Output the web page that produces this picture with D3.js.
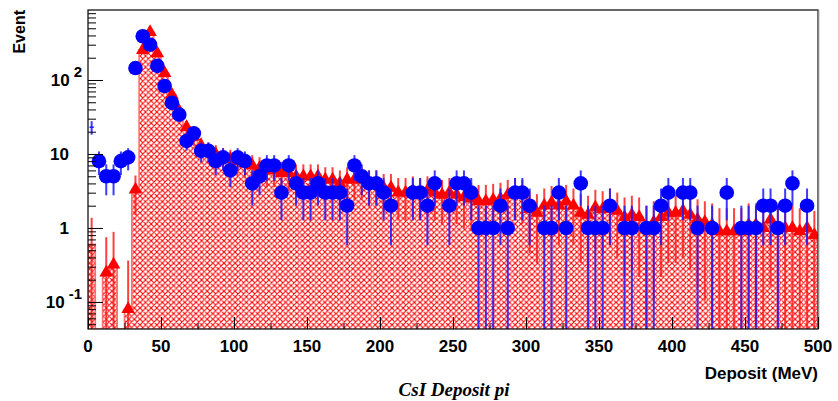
<!DOCTYPE html>
<html>
<head>
<meta charset="utf-8">
<script src="https://cdn.jsdelivr.net/npm/d3@7"></script>
<style>
  body { margin: 0; background: #fff; }
  text { font-family: "Liberation Sans", Arial, sans-serif; font-weight: bold; }
</style>
</head>
<body>
<div id="chart"></div>
<script>
// histogram binning (MeV)
const binWidth = 5;
const xMin = 0, xMax = 500;

// MC (red, hatched) per-bin contents
const redCounts = [
  0.6, 0, 0.25, 0.32, 0, 0.08, 3.3, 254, 445, 230,
  124, 63, 38, 23, 17, 13, 11, 10, 9, 8.5,
  8, 7.5, 7, 6.5, 6, 6, 5.5, 5.5, 5, 5,
  5, 5, 4.5, 4.5, 4, 4.5, 4.5, 4.5, 4, 4,
  3.5, 3.5, 3, 3, 3.2, 3, 3.2, 3, 2.8, 3,
  2.8, 2.6, 2.5, 2.3, 2.3, 2.4, 2.5, 2.8, 3, 2.8,
  1.8, 1.6, 2, 2.2, 2, 2.3, 2, 1.6, 1.5, 1.9,
  1.8, 2, 1.7, 1.4, 1.5, 1.4, 1.0, 1.2, 1.4, 1.6,
  1.6, 1.7, 1.5, 1.3, 1.2, 1.1, 0.9, 0.9, 0.9, 0.9,
  1.1, 1.1, 1.0, 1.3, 1.0, 1.0, 1.0, 0.9, 1.0, 0.8
];

// data (blue points) per-bin counts
const blueCounts = [
  23, 8, 5, 5, 8, 9, 145, 390, 300, 155,
  83, 49, 34, 15, 19, 11, 11, 8, 9, 6,
  9, 8, 4, 5, 7, 7, 3, 7, 4, 3,
  3, 4, 3, 3, 3, 2, 7, 5, 4, 4,
  3, 2, 0, 0, 3, 3, 2, 4, 0, 2,
  4, 4, 3, 1, 1, 1, 2, 1, 3, 3,
  2, 0, 1, 1, 3, 1, 0, 4, 1, 1,
  1, 2, 0, 1, 1, 0, 1, 1, 2, 3,
  0, 3, 3, 1, 0, 1, 0, 3, 0, 1,
  1, 1, 2, 2, 1, 2, 4, 0, 2, 0
];

const xMajorTicks = [0, 50, 100, 150, 200, 250, 300, 350, 400, 450, 500];
const xMinorTicks = [25, 75, 125, 175, 225, 275, 325, 375, 425, 475];
const yMajorTicks = [0.1, 1, 10, 100];
const yTickLabels = [["10", "-1"], ["1", ""], ["10", ""], ["10", "2"]];

const width = 838, height = 401;
const frame = { left: 88, right: 818, top: 10, bottom: 329 };

const svg = d3.select("#chart").append("svg")
  .attr("width", width)
  .attr("height", height);

svg.append("rect").attr("width", width).attr("height", height).attr("fill", "#fff");

const x = d3.scaleLinear().domain([xMin, xMax]).range([frame.left, frame.right]);
const y = d3.scaleLog().domain([0.0431, 883]).range([frame.bottom, frame.top]);
const yLow = y.domain()[0];

const defs = svg.append("defs");
defs.append("clipPath").attr("id", "frame-clip")
  .append("rect")
  .attr("x", frame.left).attr("y", frame.top)
  .attr("width", frame.right - frame.left)
  .attr("height", frame.bottom - frame.top);

// ROOT style cross hatch
const hs = 5.6;
const pat = defs.append("pattern")
  .attr("id", "xhatch")
  .attr("patternUnits", "userSpaceOnUse")
  .attr("width", hs).attr("height", hs);
pat.append("rect").attr("width", hs).attr("height", hs).attr("fill", "#fff");
pat.append("path")
  .attr("d", `M0,0 L${hs},${hs} M${hs},0 L0,${hs} M-1,${hs - 1} L1,${hs + 1} M${hs - 1},-1 L${hs + 1},1 M${hs - 1},${hs + 1} L${hs + 1},${hs - 1} M-1,1 L1,-1`)
  .attr("stroke", "#ff0000")
  .attr("stroke-width", 1.1);

const bins = redCounts.map((v, i) => ({
  lo: xMin + i * binWidth,
  hi: xMin + (i + 1) * binWidth,
  mid: xMin + (i + 0.5) * binWidth,
  red: v,
  blue: blueCounts[i],
  idx: i,
}));

const plot = svg.append("g").attr("clip-path", "url(#frame-clip)");

// hatched histogram bars
plot.append("g")
  .selectAll("rect")
  .data(bins.filter(d => d.red > 0))
  .enter()
  .append("rect")
  .attr("x", d => x(d.lo))
  .attr("y", d => y(d.red))
  .attr("width", d => x(d.hi) - x(d.lo))
  .attr("height", d => frame.bottom - y(d.red))
  .attr("fill", "url(#xhatch)");

// histogram outline (step)
let outline = [];
bins.forEach(d => {
  const yy = d.red > 0 ? y(d.red) : frame.bottom;
  outline.push([x(d.lo), yy], [x(d.hi), yy]);
});
outline = [[x(xMin), frame.bottom], ...outline, [x(xMax), frame.bottom]];
plot.append("path")
  .attr("d", d3.line()(outline))
  .attr("fill", "none")
  .attr("stroke", "#ff7070")
  .attr("stroke-width", 1.6);

// red error bars
plot.append("g")
  .selectAll("line")
  .data(bins.filter(d => d.red > 0))
  .enter()
  .append("line")
  .attr("x1", d => x(d.mid)).attr("x2", d => x(d.mid))
  .attr("y1", d => y(d.red + Math.sqrt(d.red)))
  .attr("y2", d => y(Math.max(d.red - Math.sqrt(d.red), yLow)))
  .attr("stroke", "#ff2020")
  .attr("stroke-width", 2)
  .attr("stroke-opacity", 0.85);

// red triangles
plot.append("g")
  .selectAll("path")
  .data(bins.filter(d => d.red > 0 && d.idx > 0))
  .enter()
  .append("path")
  .attr("d", d3.symbol().type(d3.symbolTriangle).size(80))
  .attr("transform", d => `translate(${x(d.mid)},${y(d.red)})`)
  .attr("fill", "#ff0000");

// blue error bars (vertical + horizontal)
const blueBins = bins.filter(d => d.blue > 0);
const be = plot.append("g");
be.selectAll("line.v")
  .data(blueBins)
  .enter()
  .append("line")
  .attr("class", "v")
  .attr("x1", d => x(d.mid)).attr("x2", d => x(d.mid))
  .attr("y1", d => y(d.blue + Math.sqrt(d.blue)))
  .attr("y2", d => y(Math.max(d.blue - Math.sqrt(d.blue), yLow)))
  .attr("stroke", "#1a1aff")
  .attr("stroke-width", 2)
  .attr("stroke-opacity", 0.85);
be.selectAll("line.h")
  .data(blueBins)
  .enter()
  .append("line")
  .attr("class", "h")
  .attr("x1", d => x(d.lo) + 1.5).attr("x2", d => x(d.hi) - 1.5)
  .attr("y1", d => y(d.blue)).attr("y2", d => y(d.blue))
  .attr("stroke", "#1a1aff")
  .attr("stroke-width", 1.5);

// blue markers (first bin marker is not drawn in the original)
plot.append("g")
  .selectAll("circle")
  .data(blueBins.filter(d => d.idx > 0))
  .enter()
  .append("circle")
  .attr("cx", d => x(d.mid))
  .attr("cy", d => y(d.blue))
  .attr("r", 7.3)
  .attr("fill", "#0000ff");

// frame
svg.append("rect")
  .attr("x", frame.left).attr("y", frame.top)
  .attr("width", frame.right - frame.left)
  .attr("height", frame.bottom - frame.top)
  .attr("fill", "none")
  .attr("stroke", "#000")
  .attr("stroke-width", 1.2);
svg.append("line")
  .attr("x1", frame.right + 0.5).attr("x2", frame.right + 0.5)
  .attr("y1", frame.top).attr("y2", frame.bottom)
  .attr("stroke", "#888").attr("stroke-width", 1.6);

// x ticks (pointing inward)
svg.append("g")
  .attr("transform", `translate(0,${frame.bottom})`)
  .call(d3.axisTop(x).tickValues(xMajorTicks).tickSize(12).tickFormat(""))
  .call(g => g.select(".domain").remove());
svg.append("g")
  .attr("transform", `translate(0,${frame.bottom})`)
  .call(d3.axisTop(x).tickValues(xMinorTicks).tickSize(6).tickFormat(""))
  .call(g => g.select(".domain").remove());

svg.append("g")
  .selectAll("text")
  .data(xMajorTicks)
  .enter()
  .append("text")
  .attr("x", d => x(d))
  .attr("y", 352)
  .attr("text-anchor", "middle")
  .attr("font-size", 17)
  .text(d => d);

// y ticks (pointing inward)
const yMinorTicks = [];
[0.01, 0.1, 1, 10, 100].forEach(dec => {
  for (let k = 2; k <= 9; k++) {
    const v = dec * k;
    if (v >= y.domain()[0] && v <= y.domain()[1]) yMinorTicks.push(v);
  }
});
svg.append("g")
  .attr("transform", `translate(${frame.left},0)`)
  .call(d3.axisRight(y).tickValues(yMajorTicks).tickSize(15).tickFormat(""))
  .call(g => g.select(".domain").remove());
svg.append("g")
  .attr("transform", `translate(${frame.left},0)`)
  .call(d3.axisRight(y).tickValues(yMinorTicks).tickSize(8).tickFormat(""))
  .call(g => g.select(".domain").remove());

const yLab = svg.append("g");
yMajorTicks.forEach((v, i) => {
  const [base, exp] = yTickLabels[i];
  const t = yLab.append("text")
    .attr("font-size", 17)
    .attr("text-anchor", "end");
  if (exp) {
    t.attr("x", 82).attr("y", y(v) + 6);
    t.append("tspan").text(base);
    t.append("tspan").attr("dx", 4).attr("dy", -9).attr("font-size", 15).text(exp);
  } else {
    t.attr("x", 69).attr("y", y(v) + 6).text(base);
  }
});

// axis titles
svg.append("text")
  .attr("transform", "translate(25,10) rotate(-90)")
  .attr("text-anchor", "end")
  .attr("font-size", 16)
  .text("Event");

svg.append("text")
  .attr("x", frame.right)
  .attr("y", 379)
  .attr("text-anchor", "end")
  .attr("font-size", 17)
  .text("Deposit (MeV)");

svg.append("text")
  .attr("x", 454)
  .attr("y", 396)
  .attr("text-anchor", "middle")
  .attr("font-size", 19)
  .style("font-family", "'Liberation Serif', 'Times New Roman', serif")
  .style("font-style", "italic")
  .text("CsI Deposit pi");
</script>
</body>
</html>
